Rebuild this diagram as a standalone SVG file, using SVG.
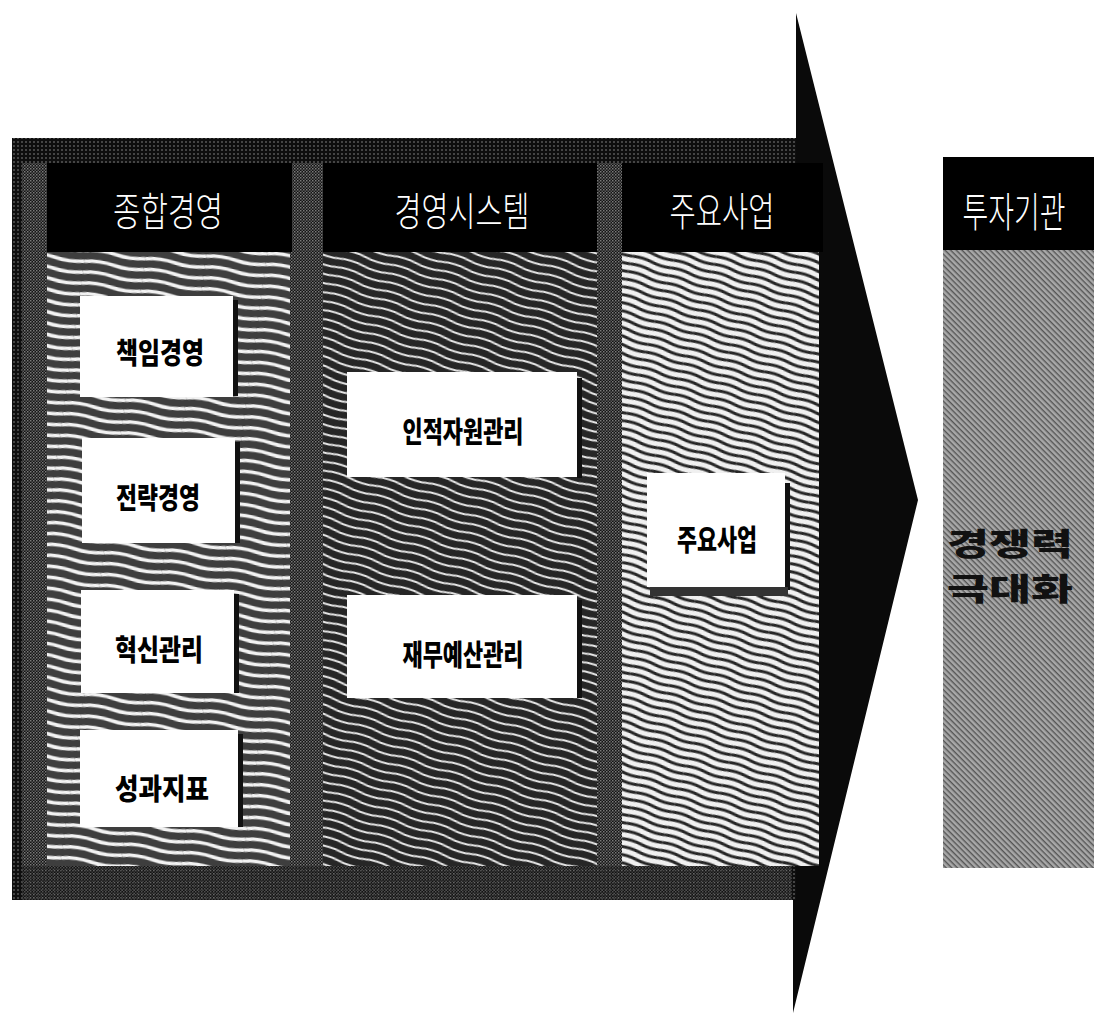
<svg xmlns="http://www.w3.org/2000/svg" width="1094" height="1015" viewBox="0 0 1094 1015">
<defs>
<style>
.hdr{fill:#000}
.htxt{font-family:"Noto Sans CJK KR","Noto Sans",sans-serif;font-weight:300;font-size:40px;fill:#fff;text-anchor:middle;dominant-baseline:central}
.btxt{font-family:"Noto Sans CJK KR","Noto Sans",sans-serif;font-weight:900;font-size:29px;fill:#000;text-anchor:middle;dominant-baseline:central}
.big{font-family:"Noto Sans CJK KR","Noto Sans",sans-serif;font-weight:900;font-size:31px;fill:#111;text-anchor:middle;dominant-baseline:central}
.box{fill:#fff}
.shd{fill:#111}
</style>
<pattern id="ht" width="4" height="4" patternUnits="userSpaceOnUse">
<rect width="4" height="4" fill="#0e0e0e"/>
<circle cx="2" cy="2" r="0.8" fill="#8a8a8a"/>
</pattern>
<pattern id="chk" width="3" height="3" patternUnits="userSpaceOnUse">
<rect width="3" height="3" fill="#141414"/>
<rect width="1.5" height="1.5" fill="#7a7a7a"/>
<rect x="1.5" y="1.5" width="1.5" height="1.5" fill="#5a5a5a"/>
</pattern>
<pattern id="w1" width="60" height="11" patternUnits="userSpaceOnUse" patternTransform="rotate(8)">
<rect width="60" height="11" fill="#3e3e3e"/>
<path d="M0,5 Q15,2 30,5 T60,5" fill="none" stroke="#f2f2f2" stroke-width="3.6"/>
</pattern>
<pattern id="w2" width="50" height="9" patternUnits="userSpaceOnUse" patternTransform="rotate(17)">
<rect width="50" height="9" fill="#262626"/>
<path d="M0,4 Q12,1.5 25,4 T50,4" fill="none" stroke="#e8e8e8" stroke-width="1.9"/>
</pattern>
<pattern id="w3" width="40" height="8" patternUnits="userSpaceOnUse" patternTransform="rotate(17)">
<rect width="40" height="8" fill="#f0f0f0"/>
<path d="M0,4 Q10,2 20,4 T40,4" fill="none" stroke="#262626" stroke-width="3"/>
</pattern>
<pattern id="rp" width="4" height="4" patternUnits="userSpaceOnUse" patternTransform="rotate(45)">
<rect width="4" height="4" fill="#a8a8a8"/>
<rect width="4" height="1.4" fill="#555"/>
</pattern>
</defs>

<g id="arrow">
<polygon points="12,138 796,138 796,13 918,500 793,1013 793,900 12,900" fill="#0a0a0a"/>
<rect x="12" y="138" width="784" height="762" fill="url(#ht)"/>
<rect x="22" y="163" width="25" height="703" fill="url(#chk)"/>
<rect x="290" y="163" width="33" height="703" fill="url(#chk)"/>
<rect x="597" y="163" width="25" height="703" fill="url(#chk)"/>
<rect x="22" y="866" width="770" height="34" fill="url(#chk)" opacity="0.6"/>
</g>

<g id="col1">
<rect class="hdr" x="47" y="163" width="245" height="89"/>
<text class="htxt" x="168" y="209" textLength="110" lengthAdjust="spacingAndGlyphs">종합경영</text>
<rect x="47" y="252" width="243" height="614" fill="url(#w1)"/>
</g>
<g id="col2">
<rect class="hdr" x="323" y="163" width="274" height="89"/>
<text class="htxt" x="462" y="209" textLength="135" lengthAdjust="spacingAndGlyphs">경영시스템</text>
<rect x="323" y="252" width="274" height="614" fill="url(#w2)"/>
</g>
<g id="col3">
<rect class="hdr" x="622" y="163" width="201" height="89"/>
<text class="htxt" x="722" y="209" textLength="105" lengthAdjust="spacingAndGlyphs">주요사업</text>
<rect x="622" y="252" width="197" height="614" fill="url(#w3)"/>
</g>

<g id="box-1">
<rect class="box" x="80" y="296" width="153" height="101"/>
<rect class="shd" x="233" y="300" width="5" height="96"/>
<text class="btxt" x="160" y="351" textLength="88" lengthAdjust="spacingAndGlyphs">책임경영</text>
</g>
<g id="box-2">
<rect class="box" x="82" y="438" width="153" height="105"/>
<rect class="shd" x="235" y="442" width="5" height="101"/>
<text class="btxt" x="158" y="496" textLength="84" lengthAdjust="spacingAndGlyphs">전략경영</text>
</g>
<g id="box-3">
<rect class="box" x="81" y="590" width="153" height="103"/>
<rect class="shd" x="234" y="594" width="5" height="99"/>
<text class="btxt" x="159" y="648" textLength="88" lengthAdjust="spacingAndGlyphs">혁신관리</text>
</g>
<g id="box-4">
<rect class="box" x="80" y="730" width="158" height="97"/>
<rect class="shd" x="238" y="734" width="5" height="93"/>
<text class="btxt" x="162" y="787" textLength="94" lengthAdjust="spacingAndGlyphs">성과지표</text>
</g>
<g id="box-5">
<rect class="box" x="347" y="372" width="230" height="105"/>
<rect class="shd" x="577" y="378" width="5" height="100"/>
<text class="btxt" x="463" y="430" textLength="121" lengthAdjust="spacingAndGlyphs">인적자원관리</text>
</g>
<g id="box-6">
<rect class="box" x="347" y="595" width="230" height="103"/>
<rect class="shd" x="577" y="600" width="5" height="98"/>
<text class="btxt" x="463" y="653" textLength="121" lengthAdjust="spacingAndGlyphs">재무예산관리</text>
</g>
<g id="box-7">
<rect class="box" x="647" y="473" width="138" height="114"/>
<rect class="shd" x="785" y="483" width="5" height="107"/>
<rect x="650" y="587" width="138" height="9" fill="#333"/>
<text class="btxt" x="717" y="538" textLength="80" lengthAdjust="spacingAndGlyphs">주요사업</text>
</g>

<g id="panel">
<rect class="hdr" x="943" y="157" width="151" height="93"/>
<text class="htxt" style="font-size:33px" transform="translate(1014,209) scale(0.85,1.25)" x="0" y="0">투자기관</text>
<rect x="943" y="250" width="151" height="618" fill="url(#rp)"/>
<text class="big" x="1010" y="541" textLength="126" lengthAdjust="spacingAndGlyphs">경쟁력</text>
<text class="big" x="1010" y="586" textLength="126" lengthAdjust="spacingAndGlyphs">극대화</text>
</g>
<g id="connectors"></g>
</svg>
